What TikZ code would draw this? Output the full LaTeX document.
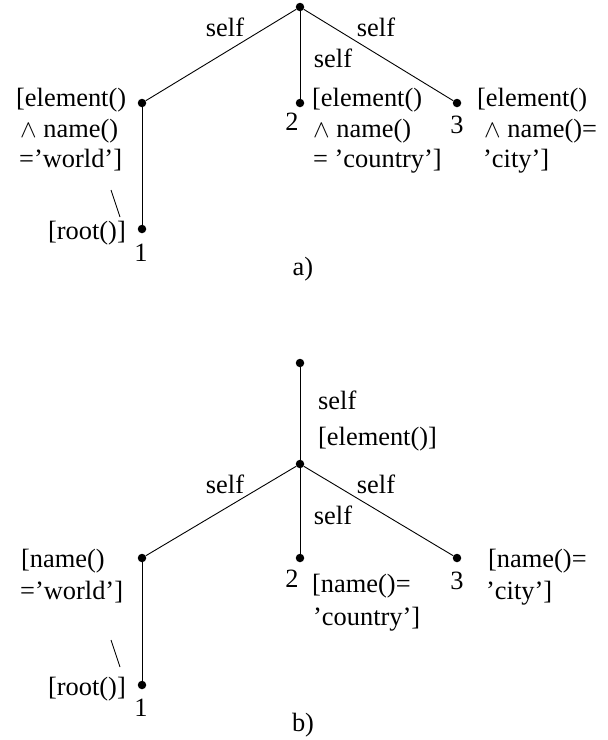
\documentclass[tikz,border=0pt]{standalone}
\usepackage{fontspec}
\setmainfont{Liberation Serif}
\newcommand{\lblfont}{\fontsize{26.4}{30}\selectfont}
\tikzset{
  lab/.style={inner sep=0pt, text height=0.7em, text depth=0.22em, font=\lblfont},
  dotnode/.style={circle, fill=black, inner sep=0pt, minimum size=8.5pt},
  edge/.style={line width=0.9pt},
}
\begin{document}
\begin{tikzpicture}[x=1pt,y=-1pt]
\useasboundingbox (0,0) rectangle (608,740);
% ---------- a) ----------
\node[dotnode] (ra) at (300,7) {};
\node[dotnode] (la) at (142,103) {};
\node[dotnode] (ma) at (300,103) {};
\node[dotnode] (na) at (457,103) {};
\node[dotnode] (ka) at (142,229) {};
\draw[edge] (ra) -- (la);
\draw[edge] (ra) -- (ma);
\draw[edge] (ra) -- (na);
\draw[edge] (la) -- (ka);
\node[lab] (sa1) at (225,34) {self};
\node[lab] (sa2) at (376,34) {self};
\node[lab] (sa3) at (333,65) {self};
\node[lab,anchor=west] (la1) at (16,104) {[element()};
\node[lab,anchor=west] (la2) at (20,135) {$\wedge$ name()};
\node[lab,anchor=west] (la3) at (19,165) {=’world’]};
\coordinate (bsa1) at (111,190);
\coordinate (bsa2) at (120,217);
\draw[line width=0.8pt] (bsa1) -- (bsa2);
\node[lab,anchor=east] (roota) at (126,237) {[root()]};
\node[lab] (n1a) at (141,259) {1};
\node[lab] (n2a) at (292,128) {2};
\node[lab,anchor=west] (ma1) at (312,104) {[element()};
\node[lab,anchor=west] (ma2) at (313,135) {$\wedge$ name()};
\node[lab,anchor=west] (ma3) at (313,165) {= ’country’]};
\node[lab] (n3a) at (457,131) {3};
\node[lab,anchor=west] (na1) at (477,104) {[element()};
\node[lab,anchor=west] (na2) at (484,135) {$\wedge$ name()=};
\node[lab,anchor=west] (na3) at (483,165) {’city’]};
\node[lab] (capa) at (303,273) {a)};
% ---------- b) ----------
\node[dotnode] (rb) at (300,363) {};
\node[dotnode] (mb) at (300,464) {};
\node[dotnode] (lb) at (142,558) {};
\node[dotnode] (cb) at (300,558) {};
\node[dotnode] (nb) at (457,558) {};
\node[dotnode] (kb) at (142,685) {};
\draw[edge] (rb) -- (mb);
\draw[edge] (mb) -- (lb);
\draw[edge] (mb) -- (cb);
\draw[edge] (mb) -- (nb);
\draw[edge] (lb) -- (kb);
\node[lab,anchor=west] (sb0) at (318,407) {self};
\node[lab,anchor=west] (eb0) at (318,443) {[element()]};
\node[lab] (sb1) at (225,491) {self};
\node[lab] (sb2) at (376,491) {self};
\node[lab] (sb3) at (333,522) {self};
\node[lab,anchor=west] (lb1) at (21,565) {[name()};
\node[lab,anchor=west] (lb2) at (20,597) {=’world’]};
\coordinate (bsb1) at (111,640);
\coordinate (bsb2) at (120,667);
\draw[line width=0.8pt] (bsb1) -- (bsb2);
\node[lab,anchor=east] (rootb) at (126,693) {[root()]};
\node[lab] (n1b) at (141,714) {1};
\node[lab] (n2b) at (292,585) {2};
\node[lab,anchor=west] (cb1) at (312,590) {[name()=};
\node[lab,anchor=west] (cb2) at (313,623) {’country’]};
\node[lab] (n3b) at (457,587) {3};
\node[lab,anchor=west] (nb1) at (488,565) {[name()=};
\node[lab,anchor=west] (nb2) at (486,597) {’city’]};
\node[lab] (capb) at (303,729) {b)};
\end{tikzpicture}
\end{document}
